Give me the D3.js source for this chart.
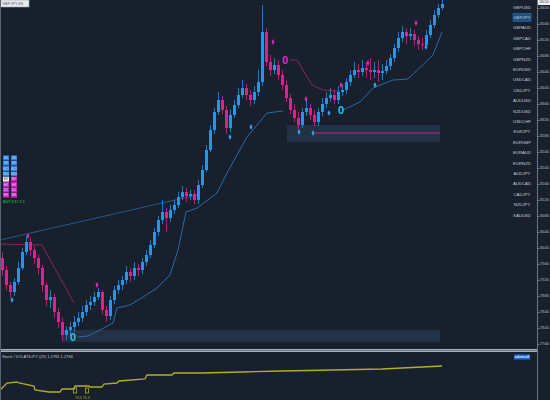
<!DOCTYPE html>
<html>
<head>
<meta charset="utf-8">
<script src="https://cdn.jsdelivr.net/npm/d3@7"></script>
<style>
  html, body { margin: 0; padding: 0; background: #17202c; overflow: hidden; }
  svg { display: block; font-family: "Liberation Sans", "DejaVu Sans", sans-serif; }
</style>
</head>
<body>
<div id="chart"></div>
<script>
// GBPJPY H1 candles (open of each bar = previous close)
const firstOpen = 179.75
const closes = [
  179.45, 179.075, 178.9, 179.15, 179.5, 179.9, 180.15, 179.95, 179.75, 179.5,
  179.075, 178.7, 178.775, 178.4, 178.15, 177.825, 177.95, 178.025, 178.15, 178.25,
  178.4, 178.575, 178.65, 178.775, 178.9, 178.45, 178.3, 178.7, 178.95, 179.075,
  179.2, 179.4, 179.3, 179.5, 179.45, 179.65, 179.825, 180.075, 180.4, 180.7,
  180.9, 180.75, 180.95, 181.075, 181.275, 181.4, 181.3, 181.35, 181.2, 181.575,
  181.95, 182.45, 182.95, 183.4, 183.7, 183.45, 183.0, 183.325, 183.575, 183.825,
  184.0, 183.825, 183.7, 183.9, 184.15, 185.4, 184.65, 184.45, 184.575, 184.325,
  184.075, 183.75, 183.45, 183.25, 183.075, 183.4, 183.5, 183.325, 183.15, 183.4,
  183.6, 183.75, 183.825, 183.7, 183.9, 183.95, 184.15, 184.325, 184.45, 184.4,
  184.5, 184.45, 184.4, 184.45, 184.375, 184.425, 184.55, 184.75, 185.0, 185.25,
  185.4, 185.3, 185.35, 185.2, 185.1, 185.075, 185.325, 185.575, 185.825, 186.0, 186.1
]
const highs = [
  179.9, 179.55, 179.15, 179.25, 179.65, 180.0, 180.3, 180.25, 180.05, 179.825,
  179.575, 179.15, 178.95, 178.85, 178.5, 178.25, 178.05, 178.15, 178.3, 178.4,
  178.55, 178.7, 178.8, 178.9, 179.0, 178.95, 178.55, 178.8, 179.05, 179.2,
  179.3, 179.55, 179.5, 179.65, 179.6, 179.75, 179.95, 180.2, 180.5, 180.8,
  181.2, 181.0, 181.075, 181.2, 181.4, 181.55, 181.5, 181.45, 181.45, 181.7,
  182.075, 182.575, 183.075, 183.5, 183.9, 183.8, 183.55, 183.45, 183.7, 184.0,
  184.2, 184.1, 183.95, 184.05, 184.45, 186.075, 185.5, 184.825, 184.75, 184.7,
  184.45, 184.2, 183.85, 183.6, 183.4, 183.5, 183.7, 183.6, 183.45, 183.5,
  183.75, 183.9, 184.0, 183.95, 184.05, 184.1, 184.25, 184.45, 184.65, 184.6,
  184.7, 184.65, 184.75, 184.65, 184.7, 184.6, 184.7, 184.85, 185.1, 185.4,
  185.55, 185.5, 185.5, 185.45, 185.3, 185.25, 185.45, 185.7, 185.95, 186.1, 186.2
]
const lows = [
  179.3, 178.95, 178.75, 178.8, 179.075, 179.45, 179.825, 179.8, 179.6, 179.325,
  178.9, 178.55, 178.5, 178.25, 178.0, 177.675, 177.7, 177.8, 177.9, 178.05,
  178.15, 178.3, 178.45, 178.55, 178.7, 178.35, 178.15, 178.2, 178.6, 178.85,
  178.95, 179.1, 179.15, 179.2, 179.3, 179.35, 179.55, 179.75, 180.0, 180.3,
  180.6, 180.4, 180.65, 180.85, 181.0, 181.2, 181.15, 181.2, 181.1, 181.1,
  181.5, 181.9, 182.4, 182.85, 183.325, 183.35, 182.85, 182.9, 183.25, 183.5,
  183.75, 183.7, 183.55, 183.6, 183.8, 184.05, 184.55, 184.3, 184.35, 184.2,
  183.95, 183.65, 183.35, 183.15, 182.95, 183.0, 183.3, 183.2, 183.05, 183.05,
  183.3, 183.5, 183.65, 183.6, 183.6, 183.8, 183.85, 184.05, 184.25, 184.25,
  184.3, 184.25, 184.2, 184.25, 184.15, 184.2, 184.35, 184.45, 184.65, 184.9,
  185.15, 185.1, 185.2, 185.05, 184.95, 184.95, 185.0, 185.25, 185.5, 185.75, 185.95
]

// trailing stop lines [bar index, price]
const trendDownA = [[-0.5, 180.1], [10, 180.075], [18, 178.625]]
const trendUpA = [[19, 177.775], [21.5, 177.8], [24.5, 177.95], [27.75, 178.125], [28.75, 178.5], [32, 178.575],
  [35.25, 178.775], [38.75, 179.0], [42, 179.325], [44, 179.95], [46, 180.9], [48.75, 181.0], [53.75, 181.375],
  [56.25, 181.875], [61.25, 182.775], [66.25, 183.375], [70.25, 183.425]]
const trendDownB = [[72, 184.7], [73.75, 184.7], [77.5, 184.075], [80.25, 183.95], [84, 183.925]]
const trendUpB = [[85.25, 183.45], [89.5, 183.65], [92.75, 184.0], [97.75, 184.2], [101.5, 184.225],
  [107.75, 184.825], [110, 185.4]]
const channelLine = [[-0.5, 180.2], [48.75, 181.325]]

// zones
const zones = [
  { from: 15, to: 109.5, top: 177.95, bottom: 177.65 },
  { from: 71.25, to: 109.5, top: 183.075, bottom: 182.65 }
]
const zoneLevel = { from: 77.75, to: 109.5, price: 182.875 }

// signals
const sellSignals = [[6.5, 180.3], [23.75, 179.075], [67.75, 185.15], [76, 183.725], [84.75, 184.075], [91.5, 184.625], [103.5, 185.625]]
const buySignals = [[2.5, 178.7], [57, 182.775], [62.25, 183.025], [74.25, 182.9], [77.75, 182.875], [81.75, 183.375], [93.25, 184.075], [106, 185.025]]
const flips = [{ i: 17.75, price: 177.775, dir: "up" }, { i: 70.75, price: 184.7, dir: "down" }, { i: 84.75, price: 183.45, dir: "up" }]

// lower indicator [bar index, value]
const oscValues = [[-0.5, 24], [1.25, 38], [3.75, 40], [4.25, 38], [8, 32], [8.25, 24], [11.75, 20], [14.5, 20], [15, 26],
  [18, 26], [18.25, 32], [21.75, 32], [22, 30], [25, 30], [25.5, 36], [28.75, 38], [29.25, 42], [35.75, 46],
  [36.25, 54], [42.5, 54], [43, 58], [50, 58], [60, 60], [70, 62], [82.5, 64], [95, 66], [100, 68], [110, 72]]
const oscMarks = [[18.25, 26], [21.25, 26]]

const priceTicks = [186.0, 185.6, 185.2, 184.8, 184.4, 184.0, 183.6, 183.2, 182.8, 182.4, 182.0,
  181.6, 181.2, 180.8, 180.4, 180.0, 179.6, 179.2, 178.8, 178.4, 178.0, 177.6]
const pairs = ["GBPUSD", "GBPJPY", "GBPAUD", "GBPCAD", "GBPCHF", "GBPNZD", "EURUSD", "USDCAD", "USDJPY", "AUDUSD",
  "NZDUSD", "USDCHF", "EURJPY", "EURGBP", "EURAUD", "EURNZD", "AUDJPY", "AUDCAD", "CADJPY", "NZDJPY", "XAUUSD"]
const activePair = "GBPJPY"
const timeframes = ["M1", "M5", "M15", "M30", "H1", "H4", "D1", "W1"]
const trendCol1 = ["up", "up", "up", "up", "flat", "down", "down", "down"]
const trendCol2 = ["up", "up", "up", "up", "down", "down", "down", "down"]


const W = 550, H = 400
const upColor = "#2196f3", downColor = "#e0208f"
const stateColor = { up: "#2a7fdc", flat: "#e8ecf0", down: "#cc22c8" }

const svg = d3.select("#chart").append("svg")
  .attr("width", W)
  .attr("height", H)

svg.append("rect").attr("width", W).attr("height", H).attr("fill", "#17202c")

const x = d3.scaleLinear().domain([0, 110]).range([2, 442])
const y = d3.scaleLinear().domain([186.2, 177.45]).range([0, 350])
const yOsc = d3.scaleLinear().domain([100, 0]).range([352, 402])

svg.append("defs").append("clipPath").attr("id", "main")
  .append("rect").attr("width", 537).attr("height", 349)

const g = svg.append("g").attr("clip-path", "url(#main)")

// zones
g.selectAll("rect.zone").data(zones).join("rect")
  .attr("x", d => x(d.from))
  .attr("width", d => x(d.to) - x(d.from))
  .attr("y", d => y(d.top))
  .attr("height", d => y(d.bottom) - y(d.top))
  .attr("fill", "#26354a")
  .attr("opacity", 0.85)

g.append("line")
  .attr("x1", x(zoneLevel.from)).attr("x2", x(zoneLevel.to))
  .attr("y1", y(zoneLevel.price)).attr("y2", y(zoneLevel.price))
  .attr("stroke", "#c0247e").attr("stroke-width", 1)

const line = d3.line().x(d => x(d[0])).y(d => y(d[1]))

g.append("path").attr("d", line(channelLine))
  .attr("fill", "none").attr("stroke", "#2a5d8e").attr("stroke-width", 0.9)

;[trendUpA, trendUpB].forEach(s => {
  g.append("path").attr("d", line(s))
    .attr("fill", "none").attr("stroke", "#2b6aa6").attr("stroke-width", 1)
})
;[trendDownA, trendDownB].forEach(s => {
  g.append("path").attr("d", line(s))
    .attr("fill", "none").attr("stroke", "#8c2366").attr("stroke-width", 1)
})

// candles
const candles = closes.map((c, i) => ({
  i: i,
  open: i ? closes[i - 1] : firstOpen,
  close: c,
  high: highs[i],
  low: lows[i]
}))

const cg = g.append("g").attr("shape-rendering", "crispEdges")

cg.selectAll("line").data(candles).join("line")
  .attr("x1", d => x(d.i) + 0.5).attr("x2", d => x(d.i) + 0.5)
  .attr("y1", d => y(d.high)).attr("y2", d => y(d.low))
  .attr("stroke", d => d.close >= d.open ? upColor : downColor)
  .attr("stroke-opacity", 0.75)

cg.selectAll("rect").data(candles).join("rect")
  .attr("x", d => x(d.i) - 1)
  .attr("width", 3)
  .attr("y", d => y(Math.max(d.open, d.close)))
  .attr("height", d => Math.max(1, Math.abs(y(d.open) - y(d.close))))
  .attr("fill", d => d.close >= d.open ? upColor : downColor)

// signals
g.selectAll("path.sell").data(sellSignals).join("path")
  .attr("d", d => `M${x(d[0])},${y(d[1]) - 3}l1.5,3l-1.5,3l-1.5,-3z`)
  .attr("fill", "#e024b4")
g.selectAll("path.buy").data(buySignals).join("path")
  .attr("d", d => `M${x(d[0])},${y(d[1]) - 3}l1.5,3l-1.5,3l-1.5,-3z`)
  .attr("fill", "#3a9de8")

g.selectAll("text.flip").data(flips).join("text")
  .attr("x", d => x(d.i))
  .attr("y", d => y(d.price) + 4)
  .attr("text-anchor", "middle")
  .attr("font-size", 11)
  .attr("font-weight", "bold")
  .attr("fill", d => d.dir == "up" ? "#1ec8e8" : "#e028d0")
  .text("0")

// separator
svg.append("rect").attr("x", 0).attr("y", 349).attr("width", 537).attr("height", 3).attr("fill", "#a9b1ba")
svg.append("line").attr("x1", 0).attr("x2", 537).attr("y1", 350.5).attr("y2", 350.5)
  .attr("stroke", "#6c7682").attr("stroke-width", 1)

// lower indicator
svg.append("path").attr("d", d3.line().x(d => x(d[0])).y(d => yOsc(d[1]))(oscValues))
  .attr("fill", "none").attr("stroke", "#b0b024").attr("stroke-width", 1.3)
svg.selectAll("rect.om").data(oscMarks).join("rect")
  .attr("x", d => x(d[0]) - 1.5).attr("y", d => yOsc(d[1]) - 1)
  .attr("width", 3).attr("height", 5)
  .attr("fill", "none").attr("stroke", "#b0b024").attr("stroke-width", 0.8)
svg.append("text").attr("x", x(18.25)).attr("y", 399).attr("font-size", 3.5).attr("fill", "#b0b024")
  .text("76.4  76.3")

svg.append("text").attr("x", 2).attr("y", 358).attr("font-size", 4).attr("fill", "#c3c9cf")
  .text("Stoch / VOLATILITY (29) 1.2781 1.2768")

svg.append("rect").attr("x", 514).attr("y", 354.5).attr("width", 16).attr("height", 5).attr("fill", "#1b6fd8")
svg.append("text").attr("x", 522).attr("y", 358.3).attr("text-anchor", "middle")
  .attr("font-size", 3.6).attr("fill", "#ffffff").text("adxmas8")

// price axis
const axisG = svg.append("g").attr("transform", "translate(537,0)")
  .call(d3.axisRight(y).tickValues(priceTicks).tickSize(2).tickFormat(d3.format(".3f")))
axisG.select(".domain").remove()
axisG.selectAll("line").attr("stroke", "#77818c")
axisG.selectAll("text").attr("fill", "#c8ced6").attr("font-size", 2.6).attr("x", 2.5)
  .attr("font-family", "Liberation Sans")

svg.append("line").attr("x1", 537.5).attr("x2", 537.5).attr("y1", 0).attr("y2", H)
  .attr("stroke", "#6f7985").attr("stroke-width", 1)

const last = candles[candles.length - 1]
svg.append("rect").attr("x", 538).attr("y", y(last.close) - 4).attr("width", 12).attr("height", 5)
  .attr("fill", "#eef0f2")
svg.append("text").attr("x", 539.3).attr("y", y(last.close) - 0.6).attr("font-size", 2.6)
  .attr("fill", "#333").text(d3.format(".3f")(last.close))

// pair list
const py = d3.scalePoint().domain(pairs).range([7, 215])
svg.append("rect").attr("x", 513).attr("y", py(activePair) - 4).attr("width", 18).attr("height", 8)
  .attr("fill", "#1f4f80").attr("stroke", "#2f6fb0").attr("stroke-width", 0.6)
svg.selectAll("text.pair").data(pairs).join("text")
  .attr("x", 522)
  .attr("y", d => py(d) + 1.6)
  .attr("text-anchor", "middle")
  .attr("font-size", 4.3)
  .attr("fill", "#c5ccd4")
  .text(d => d)

// timeframe panel
const ty = d3.scaleBand().domain(timeframes).range([155, 198]).padding(0.08)
;[trendCol1, trendCol2].forEach((col, k) => {
  svg.selectAll("rect.tf" + k).data(timeframes).join("rect")
    .attr("x", 3 + k * 8)
    .attr("y", d => ty(d))
    .attr("width", 6)
    .attr("height", ty.bandwidth())
    .attr("fill", (d, j) => stateColor[col[j]])
  svg.selectAll("text.tf" + k).data(timeframes).join("text")
    .attr("x", 6 + k * 8)
    .attr("y", d => ty(d) + ty.bandwidth() - 1.2)
    .attr("text-anchor", "middle")
    .attr("font-size", 3)
    .attr("fill", (d, j) => col[j] == "flat" ? "#333" : "#dfe6ee")
    .text(d => d)
})
svg.append("text").attr("x", 3).attr("y", 203).attr("font-size", 3.6).attr("font-weight", "bold")
  .attr("fill", "#22a83a").text("BUY 0.5 / 1.3")

// header
svg.append("rect").attr("x", 0).attr("y", 0).attr("width", 29).attr("height", 7)
  .attr("fill", "#e9ebee").attr("stroke", "#9aa3ad").attr("stroke-width", 0.6)
svg.append("text").attr("x", 2).attr("y", 5).attr("font-size", 4).attr("fill", "#555c66").text("GBPJPY,H1")

svg.append("line").attr("x1", 0.5).attr("x2", 0.5).attr("y1", 0).attr("y2", H)
  .attr("stroke", "#59636f").attr("stroke-width", 1)
</script>
</body>
</html>
